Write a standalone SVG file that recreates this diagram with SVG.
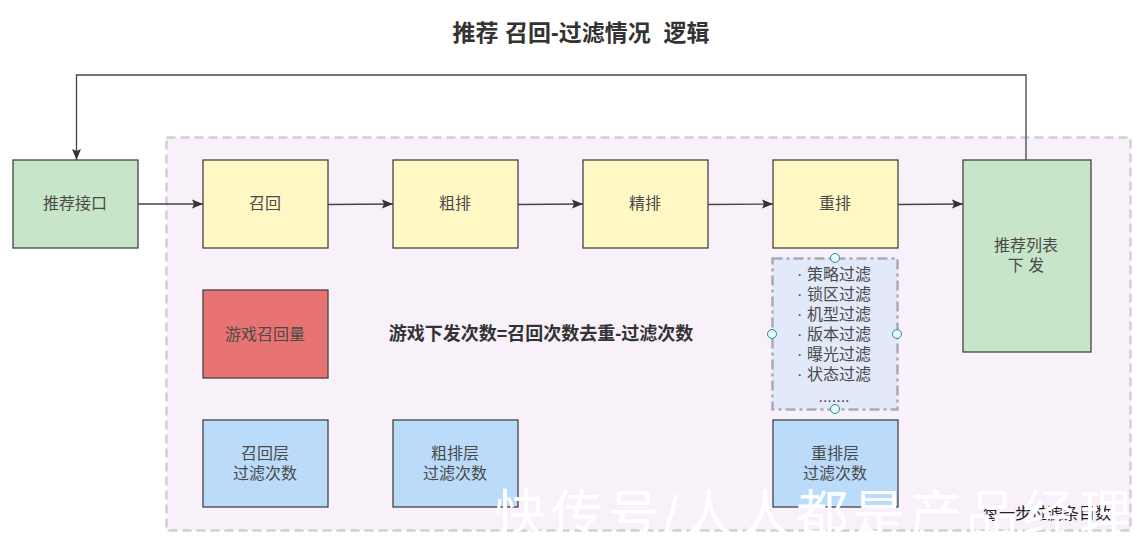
<svg xmlns="http://www.w3.org/2000/svg" width="1148" height="548" viewBox="0 0 1148 548">
<defs>
<marker id="a" markerUnits="userSpaceOnUse" markerWidth="12" markerHeight="10" refX="11" refY="5" orient="auto"><path d="M0 0.5L11 5L0 9.5L2 5Z" fill="#333"/></marker>
</defs>
<style>
text{font-family:"Liberation Sans","Noto Sans CJK SC",sans-serif;font-size:16px;fill:#4a4a4a;text-anchor:middle;white-space:pre}
.n{stroke:#444;stroke-width:1.3}
.y{fill:#fff8c4}.g{fill:#c6e5c9}.b{fill:#badcfa}
.c{fill:none;stroke:#444;stroke-width:1.3;marker-end:url(#a)}
.h{fill:#e6fbfb;stroke:#2b8a9a;stroke-width:1}
.w{fill:#fff;font-size:52px;letter-spacing:4.6px}
</style>
<rect width="1148" height="548" fill="#fff"/>
<rect x="166.500" y="137.500" width="964" height="393" fill="#f8f1fa" stroke="#d2ced5" stroke-width="2.500" stroke-dasharray="9 5"/>
<text x="581" y="41" style="font-size:23px;font-weight:bold;fill:#333">推荐 召回-过滤情况  逻辑</text>
<g id="connectors">
<path class="c" d="M1026 160V75H76.500V160"/>
<path class="c" d="M138 204H203"/>
<path class="c" d="M328 204.500L393 204"/>
<path class="c" d="M518 204.500L583 204"/>
<path class="c" d="M708 204.500L773 204"/>
<path class="c" d="M898 204.500L963 204"/>
</g>
<g id="api"><rect class="n g" x="13" y="160" width="125" height="88"/><text x="75" y="209">推荐接口</text></g>
<g id="recall"><rect class="n y" x="203" y="160" width="125" height="88"/><text x="265" y="209">召回</text></g>
<g id="coarse"><rect class="n y" x="393" y="160" width="125" height="88"/><text x="455" y="209">粗排</text></g>
<g id="fine"><rect class="n y" x="583" y="160" width="125" height="88"/><text x="645" y="209">精排</text></g>
<g id="rerank"><rect class="n y" x="773" y="160" width="125" height="88"/><text x="835" y="209">重排</text></g>
<g id="list"><rect class="n g" x="963" y="160" width="128" height="192"/><text x="1026" y="251">推荐列表</text><text x="1026" y="271">下 发</text></g>
<g id="volume"><rect class="n" fill="#e87373" x="203" y="290" width="125" height="88"/><text x="265" y="340">游戏召回量</text></g>
<g id="formula"><text x="541" y="340" style="font-size:18px;font-weight:bold;fill:#333">游戏下发次数=召回次数去重-过滤次数</text></g>
<g id="filters">
<rect x="772.500" y="258.500" width="125" height="151" fill="#e2e9f8" stroke="#a9a9b8" stroke-width="2.500" stroke-dasharray="10 4 3 4"/>
<text x="834" y="280">· 策略过滤</text><text x="834" y="300">· 锁区过滤</text><text x="834" y="320">· 机型过滤</text><text x="834" y="340">· 版本过滤</text><text x="834" y="360">· 曝光过滤</text><text x="834" y="380">· 状态过滤</text><text x="834" y="402">.......</text>
<circle class="h" cx="835" cy="258" r="4.500"/><circle class="h" cx="835" cy="409" r="4.500"/><circle class="h" cx="772" cy="334" r="4.500"/><circle class="h" cx="897" cy="334" r="4.500"/>
</g>
<g id="recall-filter"><rect class="n b" x="203" y="420" width="125" height="87"/><text x="265" y="459">召回层</text><text x="265" y="479">过滤次数</text></g>
<g id="coarse-filter"><rect class="n b" x="393" y="420" width="125" height="87"/><text x="455" y="459">粗排层</text><text x="455" y="479">过滤次数</text></g>
<g id="rerank-filter"><rect class="n b" x="773" y="420" width="125" height="87"/><text x="835" y="459">重排层</text><text x="835" y="479">过滤次数</text></g>
<text x="1047" y="519" style="fill:#222">每一步过滤条目数</text>
<text class="w" x="815" y="533">快传号/人人都是产品经理</text>
</svg>
